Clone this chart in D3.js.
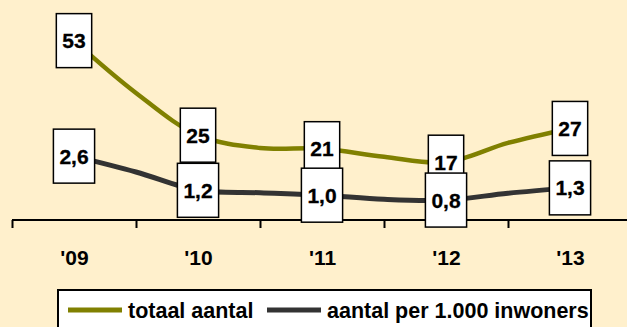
<!DOCTYPE html>
<html>
<head>
<meta charset="utf-8">
<script src="https://cdn.jsdelivr.net/npm/d3@7"></script>
<style>
  html, body { margin: 0; padding: 0; background: #FFF0CC; }
  svg { display: block; }
  text { font-family: "Liberation Sans", Arial, sans-serif; font-weight: bold; }
</style>
</head>
<body>
<svg id="chart" width="627" height="327"></svg>
<script>
// Half-year periods, year labels and the two series
const periods = [2009, 2009.5, 2010, 2010.5, 2011, 2011.5, 2012, 2012.5, 2013];
const yearTicks = [2009, 2010, 2011, 2012, 2013];
const yearLabels = ["'09", "'10", "'11", "'12", "'13"];
const boundaries = [2008.5, 2009.5, 2010.5, 2011.5, 2012.5, 2013.5];
const totaalAantal = [53, 37.5, 25, 21.2, 21, 18.6, 17, 22.7, 27];
const perDuizend = [2.6, 1.95, 1.2, 1.1, 1.0, 0.83, 0.8, 1.08, 1.3];
const labelledIdx = [0, 2, 4, 6, 8];
const seriesNames = ["totaal aantal", "aantal per 1.000 inwoners"];

const svg = d3.select("#chart");
const W = 627, H = 327;
svg.append("rect").attr("width", W).attr("height", H).attr("fill", "#FFF0CC");

const x = d3.scaleLinear().domain([2008.5, 2013.5]).range([12, 632]);
const yTot = d3.scaleLinear().domain([0, 60]).range([219.6, 17]);
const yPer = d3.scaleLinear().domain([0, 8.3]).range([219.6, 17]);

// category axis: ticks at period boundaries, labels at year centres
const axisG = svg.append("g").attr("transform", "translate(0,220)");
axisG.call(d3.axisBottom(x).tickValues(boundaries).tickFormat("").tickSize(8).tickSizeOuter(0));
axisG.select(".domain").attr("d", `M${x(2008.5)},0H${W}`).attr("stroke", "#000").attr("stroke-width", 2);
axisG.selectAll(".tick line").attr("stroke", "#000").attr("stroke-width", 2);

const labG = svg.append("g").attr("transform", "translate(0,220)");
labG.call(d3.axisBottom(x).tickValues(yearTicks)
  .tickFormat((d, i) => yearLabels[i]).tickSize(0).tickPadding(28));
labG.select(".domain").remove();
labG.selectAll("text").attr("font-size", 21).attr("fill", "#000")
  .attr("font-family", "Liberation Sans, Arial, sans-serif").attr("font-weight", "bold")
  .attr("dy", "0.71em").attr("y", 30);

const lineTot = d3.line().x((d, i) => x(periods[i])).y(d => yTot(d)).curve(d3.curveCatmullRom.alpha(0.5));
const linePer = d3.line().x((d, i) => x(periods[i])).y(d => yPer(d)).curve(d3.curveCatmullRom.alpha(0.5));

svg.append("path").attr("d", lineTot(totaalAantal)).attr("fill", "none")
  .attr("stroke", "#808000").attr("stroke-width", 4.5).attr("stroke-linejoin", "round");
svg.append("path").attr("d", linePer(perDuizend)).attr("fill", "none")
  .attr("stroke", "#333333").attr("stroke-width", 5).attr("stroke-linejoin", "round");

const fmtInt = d3.format("d");
const fmtDec = v => d3.format(".1f")(v).replace(".", ",");

function drawLabels(values, yScale, fmt) {
  const g = svg.append("g");
  labelledIdx.forEach(i => {
    const cx = x(periods[i]), cy = yScale(values[i]);
    const lg = g.append("g");
    const box = lg.append("rect");
    const t = lg.append("text").attr("x", cx).attr("y", cy + 7.5)
      .attr("text-anchor", "middle").attr("font-size", 21).attr("fill", "#000")
      .attr("stroke", "#000").attr("stroke-width", 0.3)
      .text(fmt(values[i]));
    const w = t.node().getComputedTextLength() + 12;
    box.attr("x", cx - w / 2).attr("y", cy - 27).attr("width", w).attr("height", 54)
      .attr("fill", "#fff").attr("stroke", "#000").attr("stroke-width", 1.5);
  });
}
drawLabels(totaalAantal, yTot, fmtInt);
drawLabels(perDuizend, yPer, fmtDec);

// legend
const leg = svg.append("g");
leg.append("rect").attr("x", 58).attr("y", 290).attr("width", 533).attr("height", 50)
  .attr("fill", "#fff").attr("stroke", "#000").attr("stroke-width", 2);
const legItems = [
  { name: seriesNames[0], color: "#808000", x0: 68 },
  { name: seriesNames[1], color: "#333333", x0: 267 }
];
legItems.forEach(d => {
  leg.append("rect").attr("x", d.x0).attr("y", 307.5).attr("width", 54).attr("height", 5).attr("fill", d.color);
  leg.append("text").attr("x", d.x0 + 60).attr("y", 318).attr("font-size", 21.5).attr("fill", "#000").text(d.name);
});
</script>
</body>
</html>
